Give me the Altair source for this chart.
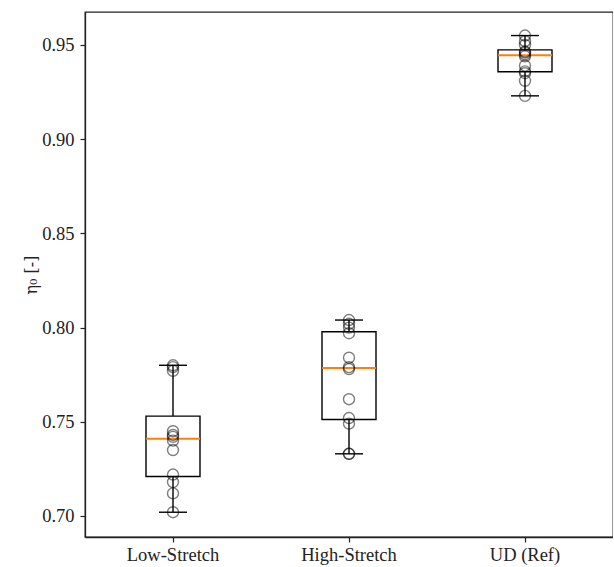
import altair as alt
import pandas as pd

categories = ["Low-Stretch", "High-Stretch", "UD (Ref)"]
low_stretch = [0.780, 0.779, 0.777, 0.745, 0.743, 0.742, 0.740, 0.735, 0.722, 0.718, 0.712, 0.702]
high_stretch = [0.804, 0.802, 0.800, 0.797, 0.784, 0.779, 0.778, 0.762, 0.752, 0.749, 0.733, 0.733]
ud_ref = [0.955, 0.952, 0.950, 0.9465, 0.946, 0.945, 0.944, 0.939, 0.936, 0.935, 0.931, 0.923]
y_ticks = [0.70, 0.75, 0.80, 0.85, 0.90, 0.95]

rows = []
for cat, vals in zip(categories, [low_stretch, high_stretch, ud_ref]):
    for v in vals:
        rows.append({"group": cat, "eta": v})
df = pd.DataFrame(rows)

W, H = 528, 525
FONT = "Liberation Serif"
TXT = "#222222"
LINE = "#222222"

x_scale = alt.Scale(domain=categories, paddingInner=0, paddingOuter=0)
y_scale = alt.Scale(domain=[0.68885, 0.9675], nice=False, zero=False)

x_axis = alt.Axis(title=None, labelAngle=0, labelFont=FONT, labelFontSize=18.5,
                  labelColor=TXT, tickColor=LINE, domainColor=LINE, tickSize=5,
                  domainWidth=1.3, tickWidth=1.2, labelPadding=3, grid=False)
y_axis = alt.Axis(title="η₀ [-]", values=y_ticks, format=".2f", labelFont=FONT,
                  labelFontSize=18.5, labelColor=TXT, tickColor=LINE, domainColor=LINE,
                  tickSize=5, domainWidth=1.3, tickWidth=1.2, labelPadding=6,
                  titleFont="DejaVu Serif", titleFontSize=16, titleFontWeight="normal",
                  titleColor=TXT, titlePadding=2, grid=False)

box = alt.Chart(df).mark_boxplot(
    extent="min-max",
    size=54,
    box={"fill": "white", "stroke": "black", "strokeWidth": 1.4},
    median={"color": "#ff7f0e", "thickness": 2, "opacity": 1},
    rule={"color": "black", "strokeWidth": 1.4},
    ticks={"color": "black", "size": 28, "thickness": 1.4, "opacity": 1},
    outliers=False,
).encode(
    x=alt.X("group:N", sort=categories, scale=x_scale, axis=x_axis),
    y=alt.Y("eta:Q", scale=y_scale, axis=y_axis),
)

pts = alt.Chart(df).mark_point(
    shape="circle", filled=False, size=121, color="black", opacity=0.5, strokeWidth=1.4
).encode(
    x=alt.X("group:N", sort=categories, scale=x_scale, axis=x_axis),
    y=alt.Y("eta:Q", scale=y_scale, axis=y_axis),
)

chart = alt.layer(box, pts).properties(
    width=W, height=H,
    background="white",
    autosize=alt.AutoSizeParams(type="none"),
    padding={"left": 85, "top": 12, "right": 0, "bottom": 30},
).configure_view(stroke="#222222", strokeWidth=1.3).configure_axis(grid=False)

chart.save("out.html", embed_options={"renderer": "svg", "actions": False})
